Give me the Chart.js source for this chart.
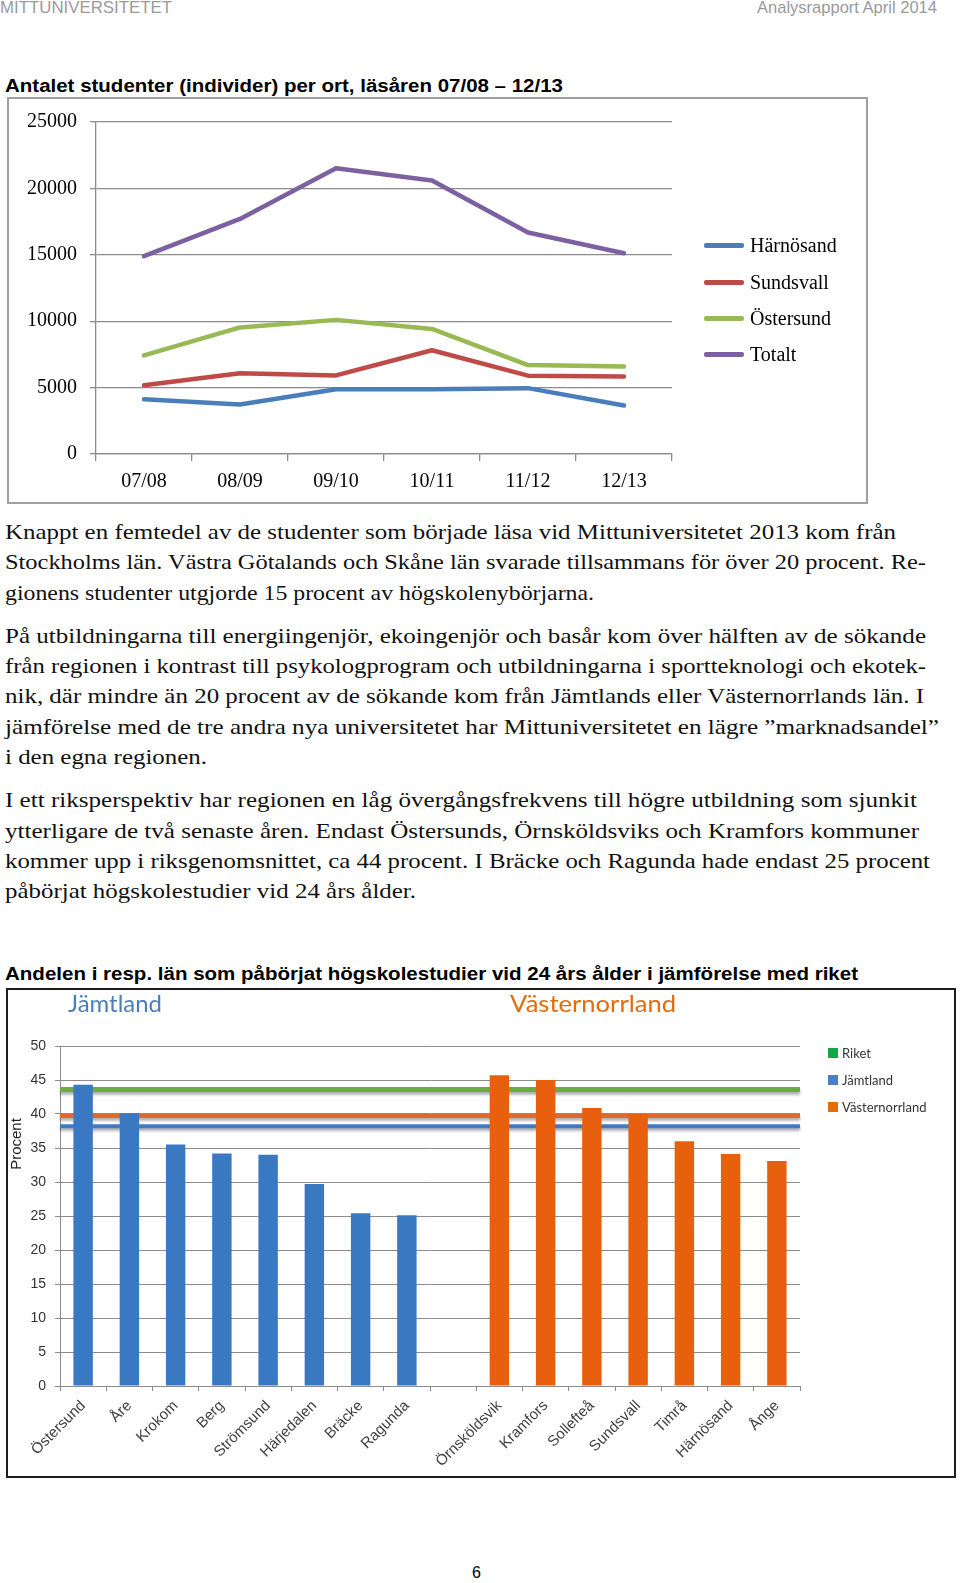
<!DOCTYPE html>
<html><head><meta charset="UTF-8"><title>Analysrapport April 2014</title>
<script src="https://cdn.jsdelivr.net/npm/chart.js"></script>
<style>
body { margin: 0; background: #fff; }
.page { position: relative; width: 960px; height: 1583px; overflow: hidden; }
.t { position: absolute; white-space: nowrap; display: inline-block; transform-origin: left center; }
.hdr { font-family: "Liberation Sans", Arial, sans-serif; font-size: 17px; line-height: 20px; color: #9a9a9a; }
.ttl { font-family: "Liberation Sans", Arial, sans-serif; font-size: 18px; line-height: 22px; font-weight: bold; color: #000; }
.p { font-family: "Liberation Serif", serif; font-size: 21px; line-height: 26px; color: #111; left: 5px; }
.box { position: absolute; box-sizing: border-box; pointer-events: none; }
.wrap { position: absolute; }
.head2 { font-family: Lato, sans-serif; font-size: 24px; line-height: 28px; }
.leg1 { position: absolute; font-family: "Liberation Serif", serif; font-size: 20px; line-height: 24px; color: #000; }
.leg1 i { position: absolute; left: -46px; top: 10px; width: 40px; height: 4.5px; border-radius: 2px; }
.leg2 { position: absolute; font-family: Lato, sans-serif; font-size: 13px; line-height: 16px; color: #333; }
.leg2 i { position: absolute; left: -14px; top: 3px; width: 10px; height: 10px; }
</style>
</head>
<body>
<div class="page">
  <span class="t hdr" style="left:0;top:-2px" data-w="172">MITTUNIVERSITETET</span>
  <span class="t hdr" style="left:757px;top:-2px" data-w="180">Analysrapport April 2014</span>

  <span class="t ttl" style="left:5px;top:75px" data-w="558">Antalet studenter (individer) per ort, läsåren 07/08 – 12/13</span>

  <div class="wrap" style="left:7px;top:97px;width:861px;height:407px"><canvas id="lineChart"></canvas></div>
  <div class="box" style="left:7px;top:97px;width:861px;height:407px;border:2px solid #a0a0a0"></div>
  <div id="legend1"></div>

  <span class="t p" style="top:519px" data-w="891">Knappt en femtedel av de studenter som började läsa vid Mittuniversitetet 2013 kom från</span>
  <span class="t p" style="top:549px" data-w="921">Stockholms län. Västra Götalands och Skåne län svarade tillsammans för över 20 procent. Re-</span>
  <span class="t p" style="top:580px" data-w="589">gionens studenter utgjorde 15 procent av högskolenybörjarna.</span>

  <span class="t p" style="top:623px" data-w="921">På utbildningarna till energiingenjör, ekoingenjör och basår kom över hälften av de sökande</span>
  <span class="t p" style="top:653px" data-w="921">från regionen i kontrast till psykologprogram och utbildningarna i sportteknologi och ekotek-</span>
  <span class="t p" style="top:683px" data-w="919">nik, där mindre än 20 procent av de sökande kom från Jämtlands eller Västernorrlands län. I</span>
  <span class="t p" style="top:714px" data-w="934">jämförelse med de tre andra nya universitetet har Mittuniversitetet en lägre ”marknadsandel”</span>
  <span class="t p" style="top:744px" data-w="202">i den egna regionen.</span>

  <span class="t p" style="top:787px" data-w="912">I ett riksperspektiv har regionen en låg övergångsfrekvens till högre utbildning som sjunkit</span>
  <span class="t p" style="top:818px" data-w="914">ytterligare de två senaste åren. Endast Östersunds, Örnsköldsviks och Kramfors kommuner</span>
  <span class="t p" style="top:848px" data-w="925">kommer upp i riksgenomsnittet, ca 44 procent. I Bräcke och Ragunda hade endast 25 procent</span>
  <span class="t p" style="top:878px" data-w="411">påbörjat högskolestudier vid 24 års ålder.</span>

  <span class="t ttl" style="left:5px;top:963px" data-w="853">Andelen i resp. län som påbörjat högskolestudier vid 24 års ålder i jämförelse med riket</span>

  <div class="wrap" style="left:6px;top:988px;width:950px;height:490px"><canvas id="barChart"></canvas></div>
  <div class="box" style="left:6px;top:988px;width:950px;height:490px;border:2px solid #1e1e1e"></div>
  <span class="t head2" style="left:68px;top:989px;color:#4a7ebb" data-w="94">Jämtland</span>
  <span class="t head2" style="left:510px;top:989px;color:#e46c0a" data-w="166">Västernorrland</span>
  <span style="position:absolute;left:15px;top:1144px;transform:translate(-50%,-50%) rotate(-90deg);font-family:'Liberation Sans',Arial,sans-serif;font-size:15px;color:#222;white-space:nowrap">Procent</span>
  <div id="legend2"></div>

  <span class="t" style="left:472px;top:1563px;font-family:'Liberation Sans',Arial,sans-serif;font-size:16px;line-height:20px">6</span>
</div>

<script>
// chart 1: studenter per ort
const yearLabels = ['07/08', '08/09', '09/10', '10/11', '11/12', '12/13'];
const harnosandValues = [4120, 3730, 4870, 4870, 4960, 3650];
const sundsvallValues = [5170, 6080, 5920, 7810, 5900, 5840];
const ostersundValues = [7420, 9530, 10100, 9420, 6700, 6580];
const totaltValues = [14900, 17700, 21520, 20600, 16680, 15120];
const ortNames = ['Härnösand', 'Sundsvall', 'Östersund', 'Totalt'];
const ortColors = ['#4a7ebb', '#be4b48', '#98b954', '#7d60a0'];

// chart 2: andel som påbörjat högskolestudier vid 24 år
const kommunLabels = ['Östersund', 'Åre', 'Krokom', 'Berg', 'Strömsund', 'Härjedalen', 'Bräcke', 'Ragunda', '',
  'Örnsköldsvik', 'Kramfors', 'Sollefteå', 'Sundsvall', 'Timrå', 'Härnösand', 'Ånge'];
const jamtlandValues = [44.3, 40.1, 35.5, 34.2, 34.0, 29.7, 25.4, 25.1, null, null, null, null, null, null, null, null];
const vasternorrlandValues = [null, null, null, null, null, null, null, null, null, 45.7, 45.0, 40.9, 40.0, 36.0, 34.1, 33.1];
const riketLevel = 43.6;
const jamtlandLevel = 38.2;
const vasternorrlandLevel = 39.7;
const legend2Names = ['Riket', 'Jämtland', 'Västernorrland'];
const legend2Colors = ['#12a84a', '#4a7fc1', '#e46c0a'];

// stretch text lines to their measured width
document.querySelectorAll('[data-w]').forEach(el => {
    const w = el.getBoundingClientRect().width;
    el.style.transform = 'scaleX(' + (el.dataset.w / w) + ')';
});

// legends
const legend1Y = [246, 283, 319, 355];
ortNames.forEach((name, i) => {
    const d = document.createElement('div');
    d.className = 'leg1';
    d.style.left = '750px';
    d.style.top = (legend1Y[i] - 13) + 'px';
    d.innerHTML = '<i style="background:' + ortColors[i] + '"></i>' + name;
    document.getElementById('legend1').appendChild(d);
});
const legend2Y = [1053, 1080, 1107];
legend2Names.forEach((name, i) => {
    const d = document.createElement('div');
    d.className = 'leg2';
    d.style.left = '842px';
    d.style.top = (legend2Y[i] - 8) + 'px';
    d.innerHTML = '<i style="background:' + legend2Colors[i] + '"></i>' + name;
    document.getElementById('legend2').appendChild(d);
});

const grey = '#8c8c8c';

new Chart(document.getElementById('lineChart'), {
    type: 'line',
    data: {
        labels: yearLabels,
        datasets: [harnosandValues, sundsvallValues, ostersundValues, totaltValues].map((vals, i) => ({
            label: ortNames[i],
            data: vals,
            borderColor: ortColors[i],
            borderWidth: 4.5,
            pointRadius: 0,
            tension: 0,
            borderCapStyle: 'round',
            borderJoinStyle: 'round'
        }))
    },
    options: {
        responsive: true,
        maintainAspectRatio: false,
        animation: false,
        layout: { padding: { left: 0, top: 22, right: 196, bottom: 0 } },
        plugins: { legend: { display: false }, tooltip: { enabled: false } },
        scales: {
            x: {
                offset: true,
                grid: { offset: true, drawOnChartArea: false, tickLength: 7, color: grey, lineWidth: 1.3 },
                border: { color: grey, width: 1.3 },
                ticks: { color: '#000', font: { family: 'Liberation Serif', size: 20 }, padding: 9, maxRotation: 0 },
                afterFit: s => { s.height = 50; }
            },
            y: {
                min: 0,
                max: 25000,
                grid: { color: grey, lineWidth: 1.3, tickLength: 6 },
                border: { color: grey, width: 1.3 },
                ticks: { stepSize: 5000, color: '#000', font: { family: 'Liberation Serif', size: 20 }, padding: 13, callback: v => String(v) },
                afterFit: s => { s.width = 89; }
            }
        }
    }
});

// horizontal level lines under the bars
const levelLines = {
    id: 'levelLines',
    beforeDatasetsDraw(chart) {
        const { ctx, chartArea, scales } = chart;
        const lines = [
            { v: riketLevel, c: '#6fab3e', w: 5 },
            { v: vasternorrlandLevel, c: '#e0692a', w: 4 },
            { v: jamtlandLevel, c: '#3f7bc0', w: 4 }
        ];
        ctx.save();
        lines.forEach(l => {
            const y = scales.y.getPixelForValue(l.v);
            ctx.shadowColor = 'rgba(0,0,0,0.35)';
            ctx.shadowBlur = 3;
            ctx.shadowOffsetY = 2.5;
            ctx.strokeStyle = l.c;
            ctx.lineWidth = l.w;
            ctx.beginPath();
            ctx.moveTo(chartArea.left, y);
            ctx.lineTo(chartArea.right, y);
            ctx.stroke();
        });
        ctx.restore();
    }
};

new Chart(document.getElementById('barChart'), {
    type: 'bar',
    data: {
        labels: kommunLabels,
        datasets: [
            { label: 'Jämtland', data: jamtlandValues, backgroundColor: '#3b78c2', grouped: false, barPercentage: 0.42, categoryPercentage: 1 },
            { label: 'Västernorrland', data: vasternorrlandValues, backgroundColor: '#e8600e', grouped: false, barPercentage: 0.42, categoryPercentage: 1 }
        ]
    },
    options: {
        responsive: true,
        maintainAspectRatio: false,
        animation: false,
        layout: { padding: { left: 0, top: 58, right: 156, bottom: 0 } },
        plugins: { legend: { display: false }, tooltip: { enabled: false } },
        scales: {
            x: {
                grid: { offset: true, drawOnChartArea: false, tickLength: 5, color: grey },
                border: { color: grey },
                ticks: { color: '#404040', font: { family: 'Liberation Sans', size: 15 }, padding: 6, autoSkip: false, maxRotation: 45, minRotation: 45 },
                afterFit: s => { s.height = 92; }
            },
            y: {
                min: 0,
                max: 50,
                grid: { color: grey, tickLength: 5 },
                border: { color: grey },
                ticks: { stepSize: 5, color: '#333', font: { family: 'Liberation Sans', size: 14 }, padding: 9 },
                afterFit: s => { s.width = 54; }
            }
        }
    },
    plugins: [levelLines]
});
</script>
</body></html>
